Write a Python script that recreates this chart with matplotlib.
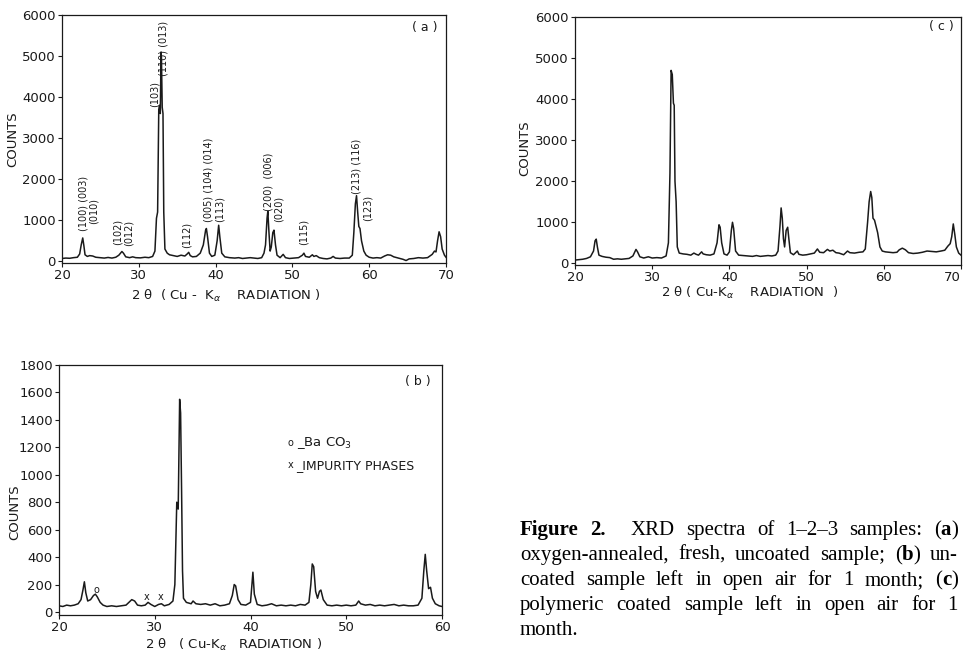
import matplotlib
matplotlib.use("Agg")
import matplotlib.pyplot as plt

# ---------------- data ----------------
two_theta_a = [20.0, 20.5, 21.0, 21.5, 22.0, 22.3, 22.5, 22.7, 22.85, 23.0, 23.3, 23.6, 24.0, 24.4, 25.0,
               25.5, 26.0, 26.5, 27.0, 27.4, 27.8, 28.0, 28.3, 28.8, 29.2, 29.6, 30.2, 30.8, 31.3, 31.8,
               32.1, 32.3, 32.45, 32.6, 32.7, 32.8, 32.9, 32.95, 33.05, 33.15, 33.25, 33.4, 33.7, 34.0,
               34.5, 35.0, 35.5, 36.0, 36.3, 36.5, 36.7, 37.0, 37.5, 38.0, 38.4, 38.7, 38.8, 38.95, 39.2,
               39.5, 39.9, 40.2, 40.4, 40.55, 40.8, 41.2, 41.8, 42.5, 43.0, 43.5, 44.0, 44.5, 45.0, 45.5,
               46.0, 46.3, 46.5, 46.7, 46.8, 46.95, 47.1, 47.25, 47.45, 47.6, 47.8, 48.0, 48.4, 48.8, 49.1,
               49.6, 50.2, 50.8, 51.3, 51.5, 51.7, 52.2, 52.6, 52.8, 53.1, 53.5, 54.0, 54.5, 55.0, 55.3,
               55.6, 56.2, 56.8, 57.4, 57.8, 58.0, 58.2, 58.35, 58.5, 58.65, 58.8, 59.0, 59.3, 59.6, 60.0,
               60.5, 61.0, 61.5, 62.0, 62.4, 62.8, 63.2, 63.8, 64.4, 64.8, 65.2, 65.8, 66.4, 67.0, 67.6,
               68.2, 68.5, 68.7, 68.9, 69.1, 69.3, 69.5, 69.8, 70.0]
counts_a = [70, 80, 75, 90, 100, 180, 400, 570, 380, 160, 120, 140, 130, 100, 90,
            80, 95, 80, 100, 150, 240, 200, 110, 90, 110, 90, 85, 100, 90, 120,
            250, 1050, 1200, 3700, 3800, 3600, 5100, 4950, 3750, 3600, 1200, 300, 200, 160,
            140, 120, 150, 130, 180, 220, 140, 110, 120, 200, 400, 760, 800, 600, 200,
            120, 150, 500, 880, 600, 200, 110, 90, 80, 90, 70, 80, 90, 80, 70,
            90, 200, 400, 1050, 1220, 700, 250, 350, 700, 760, 400, 150, 90, 170, 90,
            70, 80, 90, 150, 200, 120, 100, 160, 120, 140, 90, 70, 60, 80, 120,
            80, 70, 80, 80, 150, 700, 1400, 1600, 1200, 850, 800, 500, 250, 150, 100,
            80, 90, 80, 130, 160, 150, 110, 80, 50, 20, 60, 70, 90, 80, 90,
            170, 250, 230, 500, 720, 600, 300, 150, 100]

two_theta_c = [20.0, 20.5, 21.0, 21.5, 22.0, 22.4, 22.6, 22.75, 22.9, 23.1, 23.5, 24.0, 24.5, 25.0, 25.5,
               26.0, 26.5, 27.0, 27.5, 27.9, 28.1, 28.4, 28.9, 29.5, 30.0, 30.6, 31.2, 31.8, 32.1, 32.3,
               32.45, 32.6, 32.75, 32.85, 32.95, 33.1, 33.25, 33.5, 34.0, 34.5, 35.0, 35.4, 35.7, 36.0,
               36.4, 36.6, 37.0, 37.5, 38.0, 38.4, 38.65, 38.8, 39.0, 39.3, 39.7, 40.0, 40.25, 40.4, 40.55,
               40.8, 41.2, 41.8, 42.5, 43.0, 43.5, 44.0, 44.5, 45.0, 45.5, 46.0, 46.3, 46.55, 46.7, 46.85,
               47.0, 47.15, 47.35, 47.55, 47.7, 47.9, 48.3, 48.8, 49.0, 49.5, 50.0, 50.5, 51.0, 51.4, 51.7,
               52.2, 52.7, 53.0, 53.4, 53.8, 54.2, 54.8, 55.3, 55.6, 56.2, 56.8, 57.3, 57.6, 57.9, 58.1,
               58.3, 58.45, 58.6, 58.8, 59.0, 59.2, 59.5, 59.8, 60.2, 60.7, 61.2, 61.7, 62.0, 62.4, 62.8,
               63.2, 63.8, 64.4, 65.0, 65.6, 66.2, 66.8, 67.4, 67.9, 68.3, 68.6, 68.8, 69.0, 69.2, 69.4,
               69.7, 70.0]
counts_c = [80, 90, 100, 120, 160, 300, 550, 590, 400, 200, 170, 150, 140, 100, 110,
            100, 110, 120, 180, 340, 280, 160, 130, 160, 130, 140, 130, 180, 500, 2200,
            4700, 4600, 3900, 3850, 2000, 1500, 400, 250, 230, 220, 200, 250, 220, 200,
            280, 230, 210, 200, 230, 500, 940, 880, 500, 230, 200, 280, 800, 1000, 850,
            300, 200, 190, 180, 170, 190, 170, 180, 190, 180, 200, 300, 900, 1350, 1100,
            600, 400, 800, 880, 600, 260, 210, 300, 220, 200, 210, 230, 250, 350, 270,
            260, 340, 300, 320, 260, 250, 210, 300, 260, 250, 270, 280, 350, 1000, 1500,
            1750, 1600, 1100, 1050, 900, 750, 400, 300, 280, 270, 260, 270, 330, 370, 330,
            260, 240, 250, 270, 300, 290, 280, 300, 320, 420, 480, 650, 960, 700, 400,
            250, 200]

two_theta_b = [20.0, 20.4, 20.8, 21.2, 21.6, 22.0, 22.3, 22.5, 22.65, 22.8, 23.0, 23.3, 23.6, 23.8, 24.0,
               24.3, 24.6, 25.0, 25.5, 26.0, 26.5, 27.0, 27.3, 27.6, 27.9, 28.2, 28.6, 29.0, 29.3, 29.6,
               30.0, 30.4, 30.7, 31.0, 31.5, 31.9, 32.1, 32.3, 32.45, 32.6, 32.7, 32.8, 32.9, 33.0, 33.3,
               33.8, 34.0, 34.3, 34.8, 35.3, 35.8, 36.3, 36.8, 37.3, 37.8, 38.1, 38.3, 38.45, 38.7, 39.0,
               39.5, 40.0, 40.15, 40.25, 40.4, 40.7, 41.2, 41.7, 42.2, 42.7, 43.2, 43.7, 44.2, 44.7, 45.2,
               45.7, 46.1, 46.3, 46.45, 46.6, 46.8, 47.0, 47.2, 47.35, 47.6, 48.0, 48.5, 49.0, 49.5, 50.0,
               50.5, 51.0, 51.3, 51.5, 52.0, 52.5, 53.0, 53.5, 54.0, 54.5, 55.0, 55.5, 56.0, 56.5, 57.0,
               57.5, 57.9, 58.1, 58.25, 58.4, 58.6, 58.8, 59.0, 59.3, 59.7, 60.0]
counts_b = [45, 40, 50, 45, 50, 60, 90, 160, 220, 140, 80, 90, 120, 130, 110,
            70, 50, 40, 45, 40, 45, 50, 70, 90, 80, 50, 45, 50, 70, 55,
            40, 55, 60, 45, 55, 80, 200, 800, 750, 1550, 1450, 900, 300, 100, 70,
            60, 80, 60, 55, 60, 50, 60, 45, 50, 60, 120, 200, 190, 90, 55,
            50, 70, 200, 290, 130, 55, 45, 50, 60, 45, 50, 45, 50, 45, 55,
            50, 70, 200, 350, 330, 150, 100, 150, 160, 90, 50, 45, 50, 45, 50,
            45, 50, 80, 60, 50, 55, 45, 50, 45, 50, 55, 45, 50, 45, 45,
            50, 100, 300, 420, 300, 170, 180, 100, 60, 45, 40]

# Miller-index labels of panel (a): text, 2theta, counts at the label's lower end
hkl_labels = ["(100) (003)", "(010)", "(102)", "(012)", "(103)", "(110) (013)", "(112)",
              "(005) (104) (014)", "(113)", "(200)  (006)", "(020)", "(115)", "(213) (116)", "(123)"]
hkl_theta = [22.75, 24.1, 27.3, 28.65, 32.0, 33.25, 36.2, 39.1, 40.5, 46.85, 48.2, 51.5, 58.4, 59.75]
hkl_counts = [740, 905, 410, 370, 3750, 4520, 330, 950, 950, 1230, 950, 410, 1640, 990]

# markers in panel (b)
baco3_marks = [(23.9, 160)]
impurity_marks = [(29.2, 110), (30.6, 110)]

x_ticks_ac = [20, 30, 40, 50, 60, 70]
y_ticks_ac = [0, 1000, 2000, 3000, 4000, 5000, 6000]
x_ticks_b = [20, 30, 40, 50, 60]
y_ticks_b = [0, 200, 400, 600, 800, 1000, 1200, 1400, 1600, 1800]

caption_lines = [
    [[("Figure", "bold")], [("2.", "bold")], [("XRD", "normal")], [("spectra", "normal")], [("of", "normal")],
     [("1–2–3", "normal")], [("samples:", "normal")], [("(", "normal"), ("a", "bold"), (")", "normal")]],
    [[("oxygen-annealed,", "normal")], [("fresh,", "normal")], [("uncoated", "normal")], [("sample;", "normal")],
     [("(", "normal"), ("b", "bold"), (")", "normal")], [("un-", "normal")]],
    [[("coated", "normal")], [("sample", "normal")], [("left", "normal")], [("in", "normal")], [("open", "normal")],
     [("air", "normal")], [("for", "normal")], [("1", "normal")], [("month;", "normal")],
     [("(", "normal"), ("c", "bold"), (")", "normal")]],
    [[("polymeric", "normal")], [("coated", "normal")], [("sample", "normal")], [("left", "normal")], [("in", "normal")],
     [("open", "normal")], [("air", "normal")], [("for", "normal")], [("1", "normal")]],
    [[("month.", "normal")]],
]

# ---------------- drawing ----------------
W, H = 966, 656
INK = "#1a1a1a"
plt.rcParams["font.family"] = ["DejaVu Sans"]
fig = plt.figure(figsize=(W / 100, H / 100), dpi=100)
fig.patch.set_facecolor("white")


def px_axes(left, top, right, bottom):
    return fig.add_axes([left / W, 1 - bottom / H, (right - left) / W, (bottom - top) / H])


def style(ax, xt, yt, xlim, ylim):
    ax.set_xlim(*xlim)
    ax.set_ylim(*ylim)
    ax.set_xticks(xt)
    ax.set_yticks(yt)
    ax.tick_params(direction="out", length=3, width=0.8, colors=INK, labelsize=9.5, pad=1.5)
    for s in ax.spines.values():
        s.set_linewidth(0.9)
        s.set_color(INK)


ax_a = px_axes(62, 15, 446, 263)
ax_a.plot(two_theta_a, counts_a, color=INK, lw=1.1)
style(ax_a, x_ticks_ac, y_ticks_ac, (20, 70), (-40, 6000))
ax_a.set_ylabel("COUNTS", fontsize=9.5, color=INK)
ax_a.yaxis.set_label_coords(-0.112, 0.5)
ax_a.text(0.945, 0.95, "( a )", transform=ax_a.transAxes, ha="center", va="center", fontsize=9, color=INK)
for lab, xv, yv in zip(hkl_labels, hkl_theta, hkl_counts):
    ax_a.text(xv, yv, lab, rotation=90, ha="center", va="bottom", fontsize=7, color=INK)

ax_c = px_axes(575, 17, 961, 265)
ax_c.plot(two_theta_c, counts_c, color=INK, lw=1.1)
style(ax_c, x_ticks_ac, y_ticks_ac, (20, 70), (-40, 6000))
ax_c.set_ylabel("COUNTS", fontsize=9.5, color=INK)
ax_c.yaxis.set_label_coords(-0.114, 0.47)
ax_c.text(0.948, 0.96, "( c )", transform=ax_c.transAxes, ha="center", va="center", fontsize=9, color=INK)
# keep the last tick label inside the picture
fig.canvas.draw()
last_lab = ax_c.get_xticklabels()[-1]
last_lab.set_horizontalalignment("right")

ax_b = px_axes(59, 365, 442, 615)
ax_b.plot(two_theta_b, counts_b, color=INK, lw=1.1)
style(ax_b, x_ticks_b, y_ticks_b, (20, 60), (-22, 1800))
ax_b.set_ylabel("COUNTS", fontsize=9.5, color=INK)
ax_b.yaxis.set_label_coords(-0.099, 0.41)
ax_b.text(0.937, 0.932, "( b )", transform=ax_b.transAxes, ha="center", va="center", fontsize=9, color=INK)
for xv, yv in baco3_marks:
    ax_b.text(xv, yv, "o", ha="center", va="center", fontsize=7, color=INK)
for xv, yv in impurity_marks:
    ax_b.text(xv, yv, "x", ha="center", va="center", fontsize=7, color=INK)
ax_b.text(44.2, 1230, "o", ha="center", va="center", fontsize=7, color=INK)
ax_b.text(44.9, 1230, "_Ba CO$_3$", ha="left", va="center", fontsize=9.5, color=INK)
ax_b.text(44.2, 1070, "x", ha="center", va="center", fontsize=7, color=INK)
ax_b.text(44.8, 1070, "_IMPURITY PHASES", ha="left", va="center", fontsize=9, color=INK)

# x-axis titles
fig.text(226 / W, 1 - 296 / H, r"2 θ  ( Cu -  K$_{\alpha}$    RADIATION )", ha="center", va="center",
         fontsize=9.5, color=INK)
fig.text(750 / W, 1 - 293 / H, r"2 θ ( Cu-K$_{\alpha}$    RADIATION  )", ha="center", va="center",
         fontsize=9.5, color=INK)
fig.text(234 / W, 1 - 645 / H, r"2 θ   ( Cu-K$_{\alpha}$   RADIATION )", ha="center", va="center",
         fontsize=9.5, color=INK)

# justified caption
fig.canvas.draw()
renderer = fig.canvas.get_renderer()
CAP_SIZE = 15
cap_x0, cap_x1 = 520, 958
baselines = [535, 560, 585, 610, 635]
for li, (words, base) in enumerate(zip(caption_lines, baselines)):
    built = []
    for word in words:
        runs = []
        wsum = 0.0
        for txt, wt in word:
            t = fig.text(0, 0, txt, fontsize=CAP_SIZE, fontweight=wt, family="Liberation Serif",
                         ha="left", va="baseline", color="black")
            w = t.get_window_extent(renderer=renderer).width
            runs.append((t, w))
            wsum += w
        built.append((runs, wsum))
    gap_weights = [1.0] * (len(built) - 1)
    if li == 0:
        gap_weights[1] = 2.2
    natural_gap = 0.25 * CAP_SIZE * 100 / 72
    total_words = sum(w for _, w in built)
    last = li == len(caption_lines) - 1
    if last or not gap_weights:
        unit = natural_gap
    else:
        unit = (cap_x1 - cap_x0 - total_words) / sum(gap_weights)
    x = cap_x0
    for i, (runs, wsum) in enumerate(built):
        for t, w in runs:
            t.set_position((x / W, 1 - base / H))
            x += w
        if i < len(gap_weights):
            x += unit * gap_weights[i]

fig.savefig("out.png", dpi=100)
